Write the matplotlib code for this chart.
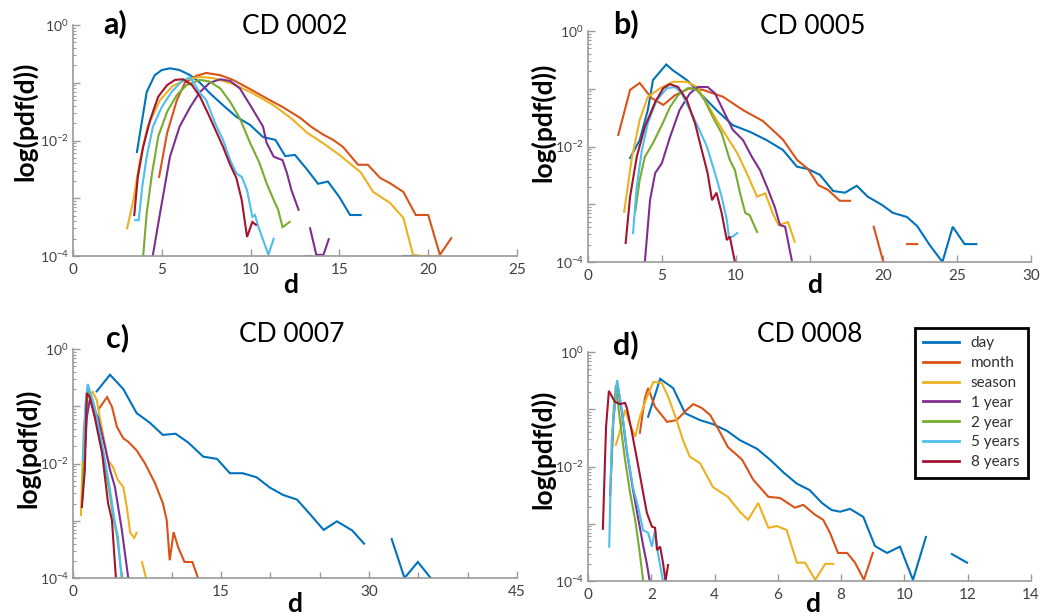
import numpy as np
import matplotlib
matplotlib.use("Agg")
import matplotlib.pyplot as plt
from matplotlib.ticker import FixedLocator, NullFormatter, FixedFormatter

plt.rcParams['font.family'] = ['Lato', 'DejaVu Sans']
plt.rcParams['mathtext.fontset'] = 'custom'
plt.rcParams['mathtext.rm'] = 'Lato'
plt.rcParams['mathtext.it'] = 'Lato:italic'
plt.rcParams['mathtext.bf'] = 'Lato:bold'

nan = np.nan

SERIES = ["day", "month", "season", "1 year", "2 year", "5 years", "8 years"]
COLORS = ["#0072BD", "#D95319", "#EDB120", "#7E2F8E", "#77AC30", "#4DBEEE", "#A2142F"]
PANEL_LETTERS = ["a)", "b)", "c)", "d)"]
PANEL_TITLES = ["CD 0002", "CD 0005", "CD 0007", "CD 0008"]
X_LIMITS = [(0, 25), (0, 30), (0, 45), (0, 14)]
X_TICKS = [[0, 5, 10, 15, 20, 25], [0, 5, 10, 15, 20, 25, 30], [0, 15, 30, 45], [0, 2, 4, 6, 8, 10, 12, 14]]
X_TICK_LABELS = [["0", "5", "10", "15", "20", "25"],
                 ["0", "5", "10", "", "20", "25", "30"],
                 ["0", "15", "30", "45"],
                 ["0", "2", "4", "6", "8", "10", "12", "14"]]
X_MINOR_C = [5, 10, 20, 25, 35, 40]

# ---- values are log10(pdf(d)) ----
# panel a) CD 0002
A_DAY_D = [3.6, 4.15, 4.6, 5.0, 5.46, 6.0, 6.6, 7.15, 7.7, 8.45, 9.2, 9.97, 10.7, 11.4, 11.95, 12.5, 13.2, 13.8, 14.35, 15.0, 15.6, 16.2, nan, 18.6, 19.2]
A_DAY_L = [-2.2, -1.16, -0.87, -0.78, -0.75, -0.78, -0.87, -1.0, -1.18, -1.39, -1.59, -1.73, -1.94, -1.99, -2.27, -2.25, -2.51, -2.75, -2.71, -2.98, -3.29, -3.29, nan, -4.0, -4.0]
A_MON_D = [4.85, 5.3, 5.85, 6.3, 6.95, 7.5, 8.3, 9.0, 9.97, 10.9, 11.8, 12.8, 13.4, 14.1, 14.65, 15.2, 16.05, 16.6, 17.3, 17.85, 18.6, 19.3, 20.0, 20.66, 21.3]
A_MON_L = [-2.63, -1.87, -1.3, -1.0, -0.88, -0.83, -0.87, -0.95, -1.11, -1.27, -1.42, -1.61, -1.76, -1.9, -1.99, -2.11, -2.42, -2.42, -2.65, -2.74, -2.89, -3.29, -3.29, -3.98, -3.69]
A_SEA_D = [3.05, 3.4, 3.77, 4.2, 4.9, 5.6, 6.4, 7.15, 7.9, 9.0, 10.1, 11.3, 12.3, 13.2, 14.1, 15.0, 16.2, 16.9, 17.85, 18.6, 19.15, 19.6, 20.1, 20.66]
A_SEA_L = [-3.52, -3.03, -2.34, -1.76, -1.3, -1.06, -0.94, -0.9, -0.92, -1.02, -1.18, -1.39, -1.62, -1.87, -2.05, -2.25, -2.55, -2.89, -3.08, -3.34, -3.98, -4.0, -4.0, -4.0]
A_Y1_D = [4.5, 4.9, 5.46, 6.0, 6.6, 7.15, 7.7, 8.3, 8.85, 9.4, 10.1, 10.7, 10.9, 11.3, 11.8, 12.05, 12.3, 12.7, nan, 13.35, 13.7, 14.1, 14.4]
A_Y1_L = [-3.98, -3.26, -2.28, -1.76, -1.42, -1.16, -1.0, -0.94, -0.97, -1.1, -1.45, -1.76, -2.04, -2.28, -2.34, -2.57, -2.86, -3.2, nan, -3.52, -3.98, -3.98, -3.71]
A_Y2_D = [3.95, 4.15, 4.45, 4.8, 5.3, 5.85, 6.4, 7.15, 7.7, 8.3, 8.85, 9.4, 9.97, 10.5, 10.9, 11.3, 11.55, 11.8, 12.2, nan, 13.1, 13.4]
A_Y2_L = [-4.0, -3.26, -2.57, -1.93, -1.5, -1.21, -1.04, -0.95, -0.98, -1.1, -1.33, -1.62, -2.04, -2.39, -2.74, -3.03, -3.2, -3.5, -3.41, nan, -4.0, -4.0]
A_Y5_D = [3.5, 3.7, 3.9, 4.15, 4.5, 5.0, 5.55, 6.1, 6.6, 7.15, 7.5, 8.0, 8.45, 8.85, 9.2, 9.5, 9.8, 10.1, 10.25, 10.4, 10.7, 11.0, 11.3]
A_Y5_L = [-3.38, -3.38, -2.8, -2.28, -1.76, -1.42, -1.16, -0.98, -0.9, -1.18, -1.3, -1.7, -1.99, -2.34, -2.57, -2.63, -2.86, -3.32, -3.29, -3.46, -3.72, -3.98, -3.7]
A_Y8_D = [3.45, 3.65, 3.95, 4.35, 4.8, 5.3, 5.75, 6.2, 6.7, 7.15, 7.6, 8.1, 8.45, 8.85, 9.2, 9.5, 9.8, 10.1, 10.3]
A_Y8_L = [-3.29, -2.63, -2.11, -1.64, -1.24, -1.04, -0.95, -0.94, -1.04, -1.24, -1.53, -1.87, -2.11, -2.42, -2.65, -3.03, -3.67, -3.41, -3.46]

# panel b) CD 0005
B_DAY_D = [2.85, 3.5, 4.05, 4.4, 5.3, 5.75, 6.7, 7.6, 8.7, 9.8, 11.0, 12.1, 13.2, 14.15, 14.9, 15.7, 16.6, 17.4, 18.2, 18.95, 19.9, 20.65, 21.6, 22.3, 23.15, 24.0, 24.7, 25.5, 26.3]
B_DAY_L = [-2.2, -1.89, -1.37, -0.85, -0.58, -0.68, -0.85, -1.08, -1.37, -1.63, -1.75, -1.89, -2.06, -2.35, -2.39, -2.49, -2.77, -2.8, -2.68, -2.87, -3.01, -3.15, -3.22, -3.38, -3.71, -4.0, -3.39, -3.69, -3.69]
B_MON_D = [2.05, 2.85, 3.5, 4.3, 5.1, 5.9, 6.9, 7.8, 9.15, 10.5, 11.85, 13.2, 14.15, 14.9, 15.6, 16.25, 17.05, 17.75, nan, 19.35, 20.0, nan, 21.6, 22.3]
B_MON_L = [-1.8, -1.02, -0.9, -1.16, -1.28, -1.11, -0.99, -1.02, -1.14, -1.37, -1.56, -1.88, -2.23, -2.39, -2.67, -2.75, -2.94, -2.94, nan, -3.39, -4.0, nan, -3.69, -3.69]
B_SEA_D = [2.45, 2.95, 3.5, 4.05, 4.9, 5.75, 6.7, 7.4, 8.05, 8.7, 9.4, 10.1, 10.75, 11.45, 12.0, 12.5, 12.9, 13.55, 14.0]
B_SEA_L = [-3.13, -2.23, -1.54, -1.14, -0.99, -0.88, -0.88, -0.97, -1.25, -1.54, -1.83, -2.11, -2.46, -2.87, -2.81, -3.15, -3.36, -3.31, -3.65]
B_Y1_D = [3.85, 4.2, 4.55, 5.0, 5.55, 6.2, 6.9, 7.45, 8.1, 8.6, 9.15, 9.8, 10.5, 11.1, 11.65, 12.2, 12.65, 13.0, 13.35, 13.8]
B_Y1_L = [-4.0, -2.93, -2.46, -2.29, -1.84, -1.37, -1.08, -0.97, -0.97, -1.08, -1.37, -1.71, -1.89, -2.18, -2.41, -2.75, -3.05, -3.36, -3.39, -3.97]
B_Y2_D = [3.2, 3.5, 3.85, 4.4, 5.0, 5.55, 6.1, 6.75, 7.4, 7.9, 8.45, 9.05, 9.6, 9.95, 10.3, 10.65, 10.95, 11.45]
B_Y2_L = [-3.13, -2.58, -2.18, -1.94, -1.63, -1.32, -1.11, -0.99, -1.02, -1.2, -1.49, -1.77, -2.23, -2.41, -2.81, -3.15, -3.19, -3.48]
B_Y5_D = [3.05, 3.3, 3.65, 4.05, 4.65, 5.35, 5.9, 6.35, 6.9, 7.45, 8.05, 8.6, 9.05, 9.4, 9.55, 9.8, 10.1]
B_Y5_L = [-3.5, -2.7, -2.06, -1.6, -1.2, -0.99, -0.97, -1.08, -1.37, -1.66, -2.0, -2.46, -2.87, -3.27, -3.58, -3.56, -3.5]
B_Y8_D = [2.55, 2.85, 3.3, 3.85, 4.55, 5.1, 5.55, 6.1, 6.7, 7.25, 7.7, 8.1, 8.4, 8.7, 9.05, 9.4, 9.6, 9.95]
B_Y8_L = [-3.67, -2.87, -2.18, -1.66, -1.23, -0.99, -0.92, -0.97, -1.2, -1.6, -2.06, -2.46, -2.93, -2.8, -3.15, -3.62, -3.56, -4.0]

# panel c) CD 0007
C_DAY_D = [2.4, 3.75, 5.1, 6.45, 7.8, 9.1, 10.4, 11.65, 13.2, 14.6, 15.9, 17.2, 18.6, 19.95, 21.3, 22.7, 24.0, 25.4, 26.75, 28.3, 29.5, nan, 32.3, 33.6, 34.95, 36.25]
C_DAY_L = [-0.74, -0.45, -0.7, -1.12, -1.29, -1.5, -1.48, -1.63, -1.88, -1.92, -2.17, -2.17, -2.24, -2.42, -2.55, -2.63, -2.88, -3.16, -3.01, -3.17, -3.4, nan, -3.32, -4.0, -3.72, -4.0]
C_MON_D = [2.6, 3.45, 3.95, 4.45, 5.1, 5.6, 6.45, 7.3, 8.3, 9.1, 9.5, 9.8, 10.2, 10.65, 11.3, 12.1, 12.65]
C_MON_L = [-1.05, -0.84, -1.01, -1.36, -1.56, -1.62, -1.77, -2.0, -2.34, -2.69, -2.99, -3.69, -3.2, -3.46, -3.72, -3.72, -3.99]
C_SEA_D = [0.8, 1.1, 1.5, 2.0, 2.4, 2.9, 3.55, 4.05, 4.55, 5.1, 5.45, 5.8, 6.2, 6.45, nan, 7.0, 7.4]
C_SEA_L = [-2.9, -1.36, -0.83, -0.75, -0.89, -1.36, -1.94, -2.06, -2.29, -2.41, -2.76, -3.21, -3.3, -3.21, nan, -3.72, -4.0]
C_Y1_D = [1.1, 1.4, 1.7, 2.5, 3.25, 3.75, 4.25, 4.95, 5.25, 5.6]
C_Y1_L = [-2.1, -1.2, -0.89, -1.18, -1.71, -2.11, -2.41, -3.16, -3.55, -4.0]
C_Y2_D = [0.95, 1.2, 1.5, 2.0, 2.6, 3.2, 3.7, 4.1, 4.45, 4.7, 4.95]
C_Y2_L = [-2.6, -1.5, -0.66, -0.95, -1.45, -2.0, -2.5, -2.95, -3.25, -3.6, -4.0]
C_Y5_D = [1.0, 1.25, 1.5, 2.2, 3.05, 3.75, 4.25, 4.55, 4.75, 4.95]
C_Y5_L = [-1.94, -1.0, -0.61, -1.01, -1.76, -2.46, -3.04, -3.28, -3.69, -4.0]
C_Y8_D = [0.9, 1.2, 1.4, 1.7, 2.2, 2.95, 3.55, 3.95, 4.15, 4.35]
C_Y8_L = [-2.76, -2.11, -0.77, -0.84, -1.19, -1.82, -2.69, -2.99, -3.51, -4.0]

# panel d) CD 0008
D_DAY_D = [1.9, 2.28, 2.69, 3.07, 3.54, 3.95, 4.4, 4.8, 5.34, 5.75, 6.17, 6.6, 7.0, 7.4, 7.7, 7.97, 8.28, 8.7, 9.07, 9.45, 9.86, 10.27, 10.68, nan, 11.5, 11.98]
D_DAY_L = [-1.13, -0.47, -0.63, -1.07, -1.19, -1.26, -1.38, -1.54, -1.69, -1.88, -2.1, -2.3, -2.41, -2.64, -2.76, -2.79, -2.74, -2.88, -3.39, -3.51, -3.4, -3.98, -3.23, nan, -3.53, -3.68]
D_MON_D = [1.64, 1.8, 1.9, 2.12, 2.5, 2.8, 3.12, 3.33, 3.6, 3.86, 4.17, 4.42, 4.87, 5.22, 5.7, 6.07, 6.54, 6.8, 7.17, 7.43, 7.65, 7.9, 8.19, 8.44, 8.72, 9.0]
D_MON_L = [-1.41, -0.8, -0.63, -0.96, -1.22, -1.19, -1.01, -0.91, -0.98, -1.1, -1.4, -1.66, -1.88, -2.23, -2.53, -2.55, -2.72, -2.67, -2.84, -2.93, -3.16, -3.51, -3.51, -3.68, -3.98, -3.51]
D_SEA_D = [0.88, 1.0, 1.17, 1.33, 1.49, 1.64, 1.86, 2.07, 2.33, 2.54, 2.8, 3.0, 3.22, 3.54, 3.95, 4.42, 4.8, 5.06, 5.38, 5.7, 5.97, 6.28, 6.6, 6.86, 7.18, 7.5, 7.75]
D_SEA_L = [-1.62, -1.41, -1.01, -1.27, -1.48, -1.13, -0.79, -0.52, -0.54, -0.79, -1.19, -1.54, -1.83, -1.94, -2.36, -2.53, -2.79, -2.93, -2.64, -3.07, -3.04, -3.11, -3.68, -3.68, -3.98, -3.7, -3.7]
D_Y1_D = [0.7, 0.8, 0.92, 1.07, 1.23, 1.42, 1.6, 1.75, 1.86, 1.95]
D_Y1_L = [-2.5, -1.2, -0.52, -1.05, -1.75, -2.4, -2.95, -3.4, -3.7, -4.0]
D_Y2_D = [0.72, 0.8, 0.88, 1.01, 1.17, 1.33, 1.49, 1.61, 1.74]
D_Y2_L = [-2.2, -1.1, -0.58, -1.19, -1.88, -2.46, -2.93, -3.4, -3.98]
D_Y5_D = [0.67, 0.75, 0.92, 1.07, 1.23, 1.42, 1.58, 1.74, 1.9, 2.02, 2.12, 2.21, 2.37]
D_Y5_L = [-3.4, -1.5, -0.49, -1.01, -1.71, -2.36, -2.7, -3.11, -3.16, -3.4, -3.11, -3.51, -4.0]
D_Y8_D = [0.47, 0.57, 0.66, 0.85, 1.01, 1.17, 1.23, 1.39, 1.55, 1.71, 1.86, 2.02, 2.12, 2.18, 2.28, 2.37, 2.45, 2.53]
D_Y8_L = [-3.09, -1.31, -0.68, -0.87, -0.91, -0.89, -0.98, -1.41, -1.88, -2.36, -2.81, -3.05, -3.07, -3.46, -3.4, -3.68, -4.0, -3.72]

PANEL_DATA = [
    [(A_DAY_D, A_DAY_L), (A_MON_D, A_MON_L), (A_SEA_D, A_SEA_L), (A_Y1_D, A_Y1_L), (A_Y2_D, A_Y2_L), (A_Y5_D, A_Y5_L), (A_Y8_D, A_Y8_L)],
    [(B_DAY_D, B_DAY_L), (B_MON_D, B_MON_L), (B_SEA_D, B_SEA_L), (B_Y1_D, B_Y1_L), (B_Y2_D, B_Y2_L), (B_Y5_D, B_Y5_L), (B_Y8_D, B_Y8_L)],
    [(C_DAY_D, C_DAY_L), (C_MON_D, C_MON_L), (C_SEA_D, C_SEA_L), (C_Y1_D, C_Y1_L), (C_Y2_D, C_Y2_L), (C_Y5_D, C_Y5_L), (C_Y8_D, C_Y8_L)],
    [(D_DAY_D, D_DAY_L), (D_MON_D, D_MON_L), (D_SEA_D, D_SEA_L), (D_Y1_D, D_Y1_L), (D_Y2_D, D_Y2_L), (D_Y5_D, D_Y5_L), (D_Y8_D, D_Y8_L)],
]

W, H = 1041, 616
fig = plt.figure(figsize=(W / 100, H / 100), dpi=100)

# axes boxes in pixels: left, right, top, bottom
BOXES = [(73, 517, 25, 256), (588, 1031, 31, 262), (73, 517, 349, 578), (588, 1031, 352, 581)]
LETTER_POS = [(115, 24), (626, 24), (118, 338), (626, 345)]
TITLE_POS = [(295, 26), (813, 27), (292, 335), (810, 335)]
YLABEL_POS = [(25, 121), (543, 122), (28, 448), (543, 449)]
XLABEL_POS = [(291, 285), (815, 285), (295, 604), (813, 604)]

AXIS_GREY = "#9a9a9a"
TICK_TEXT = "#404040"

axes = []
for i in range(4):
    l, r, t, b = BOXES[i]
    ax = fig.add_axes([l / W, 1 - b / H, (r - l) / W, (b - t) / H])
    axes.append(ax)
    for (dvals, lvals), color, name in zip(PANEL_DATA[i], COLORS, SERIES):
        dv = np.array(dvals, dtype=float)
        pv = np.power(10.0, np.array(lvals, dtype=float))
        ax.plot(dv, pv, color=color, lw=1.5, label=name, solid_joinstyle='miter')
    ax.set_yscale('log')
    ax.set_ylim(1e-4, 1)
    ax.set_xlim(*X_LIMITS[i])
    ax.xaxis.set_major_locator(FixedLocator(X_TICKS[i]))
    ax.xaxis.set_major_formatter(FixedFormatter(X_TICK_LABELS[i]))
    if i == 2:
        ax.xaxis.set_minor_locator(FixedLocator(X_MINOR_C))
    ax.yaxis.set_major_locator(FixedLocator([1e-4, 1e-3, 1e-2, 1e-1, 1e0]))
    ax.yaxis.set_major_formatter(FixedFormatter([r'$10^{-4}$', '', r'$10^{-2}$', '', r'$10^{0}$']))
    minors = [m * 10.0 ** e for e in range(-4, 0) for m in range(2, 10)]
    ax.yaxis.set_minor_locator(FixedLocator(minors))
    ax.yaxis.set_minor_formatter(NullFormatter())
    for s in ['top', 'right']:
        ax.spines[s].set_visible(False)
    for s in ['left', 'bottom']:
        ax.spines[s].set_color(AXIS_GREY)
        ax.spines[s].set_linewidth(1.2)
    ax.tick_params(axis='both', which='both', direction='in', color=AXIS_GREY, labelcolor=TICK_TEXT)
    ax.tick_params(axis='x', which='major', length=5, width=1, labelsize=11, pad=5)
    ax.tick_params(axis='x', which='minor', length=4, width=1)
    ax.tick_params(axis='y', which='major', length=5, width=1, labelsize=10, pad=3)
    ax.tick_params(axis='y', which='minor', length=2.5, width=0.8)
    ax.set_facecolor('none')

    fig.text(LETTER_POS[i][0] / W, 1 - LETTER_POS[i][1] / H, PANEL_LETTERS[i],
             fontsize=22, fontweight='bold', ha='center', va='center')
    fig.text(TITLE_POS[i][0] / W, 1 - TITLE_POS[i][1] / H, PANEL_TITLES[i],
             fontsize=19, ha='center', va='center')
    fig.text(YLABEL_POS[i][0] / W, 1 - YLABEL_POS[i][1] / H, 'log(pdf(d))',
             fontsize=19, fontweight='bold', ha='center', va='center', rotation=90)
    fig.text(XLABEL_POS[i][0] / W, 1 - XLABEL_POS[i][1] / H, 'd',
             fontsize=19, fontweight='bold', ha='center', va='center')

leg = axes[3].legend(loc='upper left', bbox_to_anchor=(915 / W, 1 - 328 / H),
                     bbox_transform=fig.transFigure, borderaxespad=0,
                     fontsize=11, frameon=True, fancybox=False, framealpha=1,
                     edgecolor='black', handlelength=2.3, handletextpad=0.8,
                     labelspacing=0.38, borderpad=0.55)
leg.get_frame().set_linewidth(2.0)
for h in leg.get_lines():
    h.set_linewidth(2.0)
for t in leg.get_texts():
    t.set_color('#303030')

fig.savefig('out.png', dpi=100)
